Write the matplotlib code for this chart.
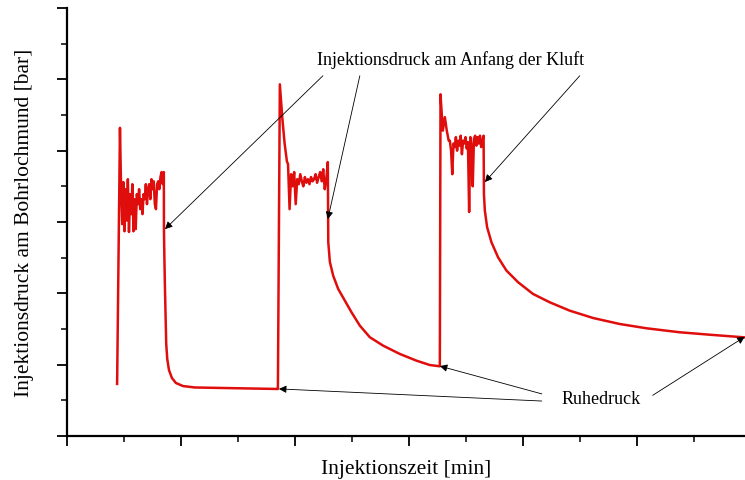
import numpy as np
import matplotlib
matplotlib.use("Agg")
import matplotlib.pyplot as plt
from matplotlib.ticker import MultipleLocator, NullFormatter

plt.rcParams['font.family'] = ['Liberation Serif', 'DejaVu Serif']

RED = '#e00d0d'

# --- Pulse 1 -------------------------------------------------------------
rise1_t = [0.44, 0.465]
rise1_p = [0.73, 4.32]
plat1_range = (0.475, 0.850)
plat1_p = [3.46, 2.97, 3.56, 2.87, 3.46, 3.02, 3.60, 2.86, 3.39, 3.11,
           3.53, 2.87, 3.32, 2.90, 3.39, 3.25, 3.46, 3.18, 3.32, 3.11,
           3.39, 3.32, 3.53, 3.25, 3.46, 3.53, 3.32, 3.60, 3.46, 3.57,
           3.25, 3.18, 3.53, 3.57, 3.46, 3.63, 3.70, 3.53, 3.70]
decay1_t = [0.851, 0.855, 0.860, 0.866, 0.871, 0.880, 0.895, 0.921, 0.956,
            1.018, 1.123, 1.342, 1.605, 1.851]
decay1_p = [2.90, 2.48, 2.06, 1.64, 1.29, 1.08, 0.925, 0.813, 0.743,
            0.700, 0.680, 0.673, 0.666, 0.659]

# --- Pulse 2 -------------------------------------------------------------
rise2_t = [1.851, 1.868, 1.890, 1.910, 1.930]
rise2_p = [0.66, 4.93, 4.45, 4.10, 3.85]
plat2_range = (1.940, 2.289)
plat2_p = [3.81, 3.18, 3.67, 3.50, 3.70, 3.25, 3.60, 3.53, 3.67, 3.57,
           3.50, 3.63, 3.55, 3.60, 3.53, 3.63, 3.57, 3.60, 3.67, 3.55,
           3.63, 3.70, 3.57, 3.74, 3.46, 3.60, 3.84]
decay2_t = [2.292, 2.293, 2.307, 2.336, 2.380, 2.439, 2.497, 2.570, 2.658,
            2.775, 2.921, 3.067, 3.184, 3.270]
decay2_p = [3.042, 2.716, 2.440, 2.248, 2.061, 1.897, 1.734, 1.547, 1.384,
            1.266, 1.150, 1.056, 0.995, 0.977]

# --- Pulse 3 -------------------------------------------------------------
rise3_t = [3.272, 3.278, 3.298, 3.316, 3.333, 3.350]
rise3_p = [0.977, 4.79, 4.28, 4.47, 4.28, 4.14]
plat3_range = (3.360, 3.656)
plat3_p = [4.14, 4.00, 3.67, 4.10, 4.05, 4.19, 4.00, 4.14, 4.07, 4.21,
           3.95, 4.14, 4.10, 4.19, 4.03, 4.12, 3.14, 4.19, 4.07, 3.50,
           4.17, 4.21, 4.07, 4.19, 4.10, 4.21, 4.05, 4.14, 4.21]
decay3_t = [3.658, 3.659, 3.667, 3.687, 3.725, 3.783, 3.857, 3.959, 4.090,
            4.237, 4.412, 4.617, 4.851, 5.085, 5.377, 5.670, 5.932, 5.950]
decay3_p = [3.533, 3.393, 3.159, 2.926, 2.716, 2.505, 2.318, 2.155, 1.991,
            1.874, 1.757, 1.654, 1.570, 1.510, 1.454, 1.416, 1.384, 1.382]

# --- Annotations -----------------------------------------------------------
label_top = "Injektionsdruck am Anfang der Kluft"
label_top_xy = (3.37, 5.29)
top_tails = [(2.246, 5.05), (2.570, 5.05), (4.50, 5.05)]
top_heads = [(0.860, 2.90), (2.289, 3.04), (3.667, 3.56)]

label_rest = "Ruhedruck"
label_rest_xy = (4.684, 0.53)
rest_tails = [(4.167, 0.49), (4.167, 0.59), (5.140, 0.57)]
rest_heads = [(1.860, 0.66), (3.272, 0.98), (5.947, 1.39)]

x_label = "Injektionszeit [min]"
y_label = "Injektionsdruck am Bohrlochmund [bar]"


def pulse(rise_t, rise_p, plat_range, plat_p, decay_t, decay_p):
    plat_t = np.linspace(plat_range[0], plat_range[1], len(plat_p))
    t = np.concatenate([rise_t, plat_t, decay_t])
    p = np.concatenate([rise_p, plat_p, decay_p])
    return t, p


t1, p1 = pulse(rise1_t, rise1_p, plat1_range, plat1_p, decay1_t, decay1_p)
t2, p2 = pulse(rise2_t, rise2_p, plat2_range, plat2_p, decay2_t, decay2_p)
t3, p3 = pulse(rise3_t, rise3_p, plat3_range, plat3_p, decay3_t, decay3_p)
t = np.concatenate([t1, t2, t3])
p = np.concatenate([p1, p2, p3])

fig = plt.figure(figsize=(7.45, 4.81), dpi=100)
ax = fig.add_axes([0.0899, 0.0915, 0.9101, 0.8898])

ax.plot(t, p, color=RED, lw=1.8, solid_joinstyle='round')

ax.set_xlim(0, 5.95)
ax.set_ylim(0, 6)

for side in ('top', 'right'):
    ax.spines[side].set_visible(False)
for side in ('left', 'bottom'):
    ax.spines[side].set_linewidth(1.6)

ax.xaxis.set_major_locator(MultipleLocator(1))
ax.xaxis.set_minor_locator(MultipleLocator(0.5))
ax.yaxis.set_major_locator(MultipleLocator(1))
ax.yaxis.set_minor_locator(MultipleLocator(0.5))
ax.xaxis.set_major_formatter(NullFormatter())
ax.yaxis.set_major_formatter(NullFormatter())
ax.tick_params(which='major', direction='out', length=7.5, width=1.3)
ax.tick_params(which='minor', direction='out', length=4.5, width=1.1)

ax.set_xlabel(x_label, fontsize=15.5, labelpad=5.5)
ax.set_ylabel(y_label, fontsize=15.5, labelpad=13)

arrow_kw = dict(arrowstyle='-|>', color='black', lw=0.6,
                mutation_scale=11, shrinkA=0, shrinkB=0)

ax.text(*label_top_xy, label_top, fontsize=13, ha='center', va='center')
for tail, head in zip(top_tails, top_heads):
    ax.annotate('', xy=head, xytext=tail, arrowprops=arrow_kw,
                annotation_clip=False)

ax.text(*label_rest_xy, label_rest, fontsize=13, ha='center', va='center')
for tail, head in zip(rest_tails, rest_heads):
    ax.annotate('', xy=head, xytext=tail, arrowprops=arrow_kw,
                annotation_clip=False)

fig.savefig('out.png', dpi=100)
